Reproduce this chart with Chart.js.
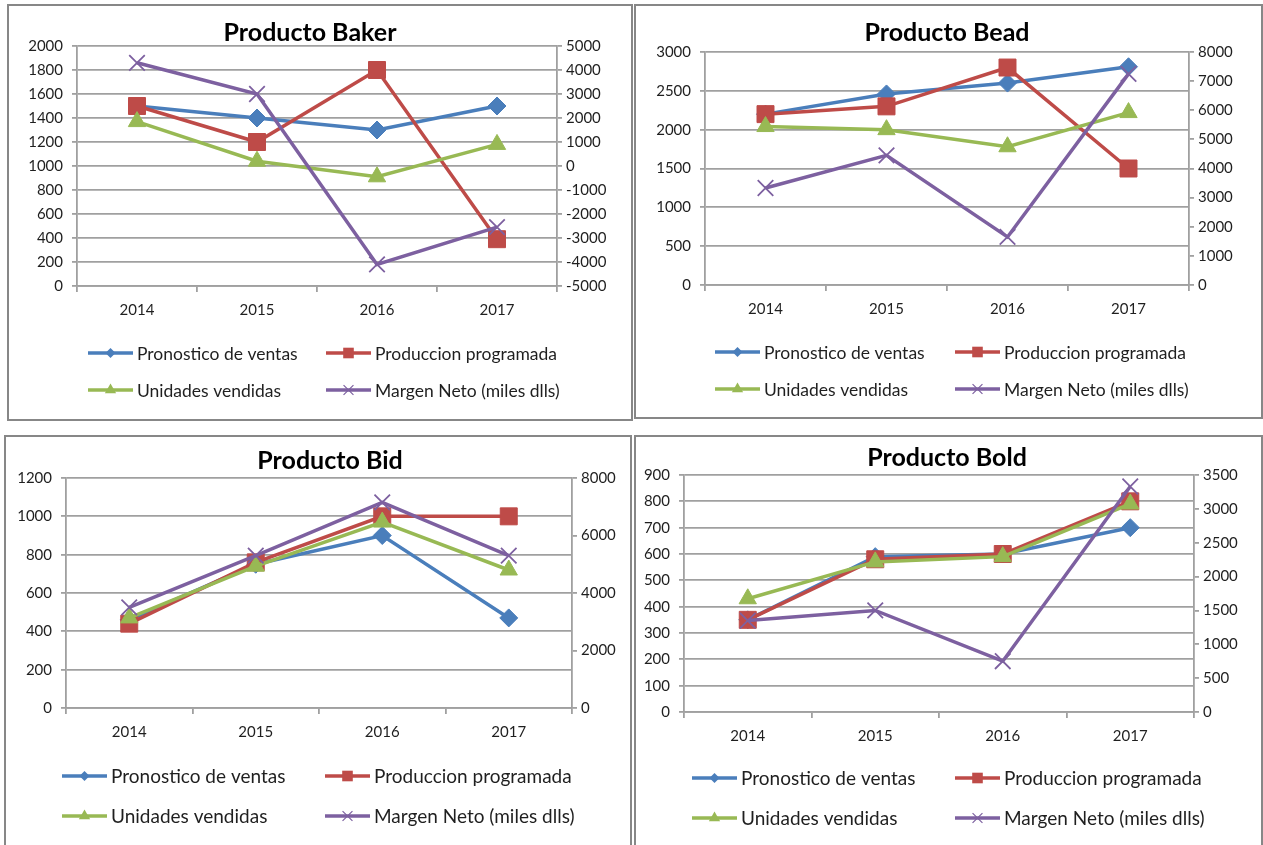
<!DOCTYPE html>
<html>
<head>
<meta charset="utf-8">
<script src="https://cdn.jsdelivr.net/npm/chart.js@4.4.1/dist/chart.umd.min.js"></script>
<style>
  html, body { margin: 0; padding: 0; background: #fff; width: 1263px; height: 845px; overflow: hidden; }
  .panel { position: absolute; box-sizing: border-box; border: 2px solid #878787; background: #fff; }
  .panel canvas { position: absolute; left: 0; top: 0; }
</style>
</head>
<body>
<div class="panel" id="p1"><canvas id="c1"></canvas></div>
<div class="panel" id="p2"><canvas id="c2"></canvas></div>
<div class="panel" id="p3"><canvas id="c3"></canvas></div>
<div class="panel" id="p4"><canvas id="c4"></canvas></div>
<script>
// Categories and series names shared by the four products
const years = ['2014', '2015', '2016', '2017'];
const seriesNames = ['Pronostico de ventas', 'Produccion programada', 'Unidades vendidas', 'Margen Neto (miles dlls)'];

// Producto Baker
const bakerPronostico = [1500, 1400, 1300, 1500];
const bakerProduccion = [1500, 1200, 1800, 390];
const bakerUnidades   = [1370, 1040, 910, 1180];
const bakerMargen     = [4300, 3000, -4100, -2550];

// Producto Bead
const beadPronostico = [2200, 2460, 2600, 2810];
const beadProduccion = [2200, 2300, 2800, 1500];
const beadUnidades   = [2040, 2000, 1780, 2220];
const beadMargen     = [3330, 4450, 1650, 7250];

// Producto Bid
const bidPronostico = [460, 750, 900, 470];
const bidProduccion = [440, 760, 1000, 1000];
const bidUnidades   = [470, 740, 970, 720];
const bidMargen     = [3500, 5300, 7150, 5300];

// Producto Bold
const boldPronostico = [350, 590, 600, 700];
const boldProduccion = [350, 580, 600, 800];
const boldUnidades   = [430, 570, 590, 790];
const boldMargen     = [1350, 1500, 750, 3330];

// Axis ranges: [min, max, step]
const bakerLeftAxis = [0, 2000, 200],  bakerRightAxis = [-5000, 5000, 1000];
const beadLeftAxis  = [0, 3000, 500],  beadRightAxis  = [0, 8000, 1000];
const bidLeftAxis   = [0, 1200, 200],  bidRightAxis   = [0, 8000, 2000];
const boldLeftAxis  = [0, 900, 100],   boldRightAxis  = [0, 3500, 500];

const FONT = 'Lato, "Open Sans", sans-serif';
const TXT = '#1f1f1f';
const GRID = '#a0a0a0';
const COLORS = ['#4a7ebb', '#be4b48', '#98b954', '#7d60a0'];
const MARKERS = [
  { style: 'rectRot',  r: 9,  lr: 5 },
  { style: 'rect',     r: 12, lr: 7.5 },
  { style: 'triangle', r: 10, lr: 6.5 },
  { style: 'crossRot', r: 11, lr: 7 }
];

// Small legend marker (line with symbol in the middle)
function legendMarker(ctx, style, x, y, r, color) {
  ctx.save();
  ctx.fillStyle = color;
  ctx.strokeStyle = color;
  ctx.beginPath();
  if (style === 'rectRot') {
    ctx.moveTo(x, y - r); ctx.lineTo(x + r, y); ctx.lineTo(x, y + r); ctx.lineTo(x - r, y); ctx.closePath(); ctx.fill();
  } else if (style === 'rect') {
    const s = r * Math.SQRT1_2;
    ctx.rect(x - s, y - s, 2 * s, 2 * s); ctx.fill();
  } else if (style === 'triangle') {
    ctx.moveTo(x, y - r); ctx.lineTo(x + r * 0.866, y + r * 0.5); ctx.lineTo(x - r * 0.866, y + r * 0.5); ctx.closePath(); ctx.fill();
  } else {
    const d = r * Math.SQRT1_2;
    ctx.lineWidth = 1.2;
    ctx.moveTo(x - d, y - d); ctx.lineTo(x + d, y + d);
    ctx.moveTo(x + d, y - d); ctx.lineTo(x - d, y + d); ctx.stroke();
  }
  ctx.restore();
}

// Title and two-column legend drawn on the chart canvas
const decor = {
  id: 'decor',
  afterDraw(chart, args, o) {
    const ctx = chart.ctx;
    ctx.save();
    ctx.fillStyle = '#000';
    ctx.font = 'bold ' + o.titleSize + 'px ' + FONT;
    ctx.textAlign = 'center';
    ctx.textBaseline = 'middle';
    ctx.fillText(o.title, o.titleX, o.titleY);

    ctx.font = o.legendSize + 'px ' + FONT;
    ctx.textAlign = 'left';
    chart.data.datasets.forEach((ds, i) => {
      const x0 = o.cols[i % 2];
      const y = o.rows[Math.floor(i / 2)];
      ctx.strokeStyle = ds.borderColor;
      ctx.lineWidth = 3.5;
      ctx.beginPath();
      ctx.moveTo(x0, y);
      ctx.lineTo(x0 + o.lineLen, y);
      ctx.stroke();
      legendMarker(ctx, MARKERS[i].style, x0 + o.lineLen / 2, y, MARKERS[i].lr, ds.borderColor);
      ctx.fillStyle = TXT;
      ctx.fillText(ds.label, x0 + o.lineLen + 4, y + 1);
    });
    ctx.restore();
  }
};

function makeChart(p) {
  const inner = { x: p.box[0] + 2, y: p.box[1] + 2, w: p.box[2] - 4, h: p.box[3] - 4 };
  const panel = document.getElementById(p.panel);
  panel.style.left = p.box[0] + 'px';
  panel.style.top = p.box[1] + 'px';
  panel.style.width = p.box[2] + 'px';
  panel.style.height = p.box[3] + 'px';
  const canvas = document.getElementById(p.canvas);
  canvas.width = inner.w;
  canvas.height = inner.h;
  const L = p.plot[0] - inner.x, R = p.plot[1] - inner.x;
  const T = p.plot[2] - inner.y, B = p.plot[3] - inner.y;
  const XH = 40;
  const tickFont = { family: FONT, size: p.tickSize };
  const fmt = v => String(v);

  new Chart(canvas, {
    type: 'line',
    data: {
      labels: years,
      datasets: p.series.map((vals, i) => ({
        label: seriesNames[i],
        data: vals,
        yAxisID: i === 3 ? 'y1' : 'y',
        borderColor: COLORS[i],
        backgroundColor: COLORS[i],
        pointBackgroundColor: COLORS[i],
        pointBorderColor: COLORS[i],
        borderWidth: 3.5,
        pointStyle: MARKERS[i].style,
        pointRadius: MARKERS[i].r,
        pointBorderWidth: i === 3 ? 1.8 : 1,
        tension: 0,
        fill: false,
        order: 4 - i
      }))
    },
    options: {
      responsive: false,
      animation: false,
      devicePixelRatio: 1,
      layout: { padding: { left: 0, right: 0, top: T, bottom: inner.h - B - XH } },
      plugins: {
        legend: { display: false },
        title: { display: false },
        tooltip: { enabled: false },
        decor: {
          title: p.title, titleX: p.titlePos[0] - inner.x, titleY: p.titlePos[1] - inner.y, titleSize: p.titleSize,
          cols: p.legendCols.map(v => v - inner.x), rows: p.legendRows.map(v => v - inner.y),
          lineLen: 45, legendSize: p.legendSize
        }
      },
      scales: {
        x: {
          offset: true,
          grid: { offset: true, drawOnChartArea: false, tickLength: 6, color: GRID, lineWidth: 1.8 },
          border: { color: GRID, width: 1.8 },
          ticks: { font: tickFont, color: TXT, padding: 9, maxRotation: 0 },
          afterFit(s) { s.height = XH; }
        },
        y: {
          position: 'left',
          min: p.left[0], max: p.left[1],
          ticks: { stepSize: p.left[2], font: tickFont, color: TXT, padding: 9, callback: fmt },
          grid: { color: GRID, lineWidth: 1.8, tickLength: 5 },
          border: { color: GRID, width: 1.8 },
          afterFit(s) { s.width = L; }
        },
        y1: {
          position: 'right',
          min: p.right[0], max: p.right[1],
          ticks: { stepSize: p.right[2], font: tickFont, color: TXT, padding: 4, callback: fmt },
          grid: { drawOnChartArea: false, color: GRID, lineWidth: 1.8, tickLength: 5 },
          border: { color: GRID, width: 1.8 },
          afterFit(s) { s.width = inner.w - R; }
        }
      }
    },
    plugins: [decor]
  });
}

makeChart({
  panel: 'p1', canvas: 'c1', box: [7, 4, 626, 417], plot: [77, 557, 46, 286],
  title: 'Producto Baker', titlePos: [310, 33], titleSize: 25,
  legendCols: [88, 326], legendRows: [353, 390], legendSize: 17.5, tickSize: 15,
  left: bakerLeftAxis, right: bakerRightAxis,
  series: [bakerPronostico, bakerProduccion, bakerUnidades, bakerMargen]
});
makeChart({
  panel: 'p2', canvas: 'c2', box: [634, 4, 629, 415], plot: [705, 1189, 52, 285],
  title: 'Producto Bead', titlePos: [947, 33], titleSize: 25,
  legendCols: [715, 955], legendRows: [352, 389], legendSize: 17.5, tickSize: 15,
  left: beadLeftAxis, right: beadRightAxis,
  series: [beadPronostico, beadProduccion, beadUnidades, beadMargen]
});
makeChart({
  panel: 'p3', canvas: 'c3', box: [4, 435, 628, 415], plot: [66, 572, 478, 708],
  title: 'Producto Bid', titlePos: [330, 461], titleSize: 25,
  legendCols: [62, 325], legendRows: [776, 816], legendSize: 19, tickSize: 15,
  left: bidLeftAxis, right: bidRightAxis,
  series: [bidPronostico, bidProduccion, bidUnidades, bidMargen]
});
makeChart({
  panel: 'p4', canvas: 'c4', box: [634, 435, 629, 415], plot: [684, 1194, 475, 712],
  title: 'Producto Bold', titlePos: [947, 458], titleSize: 25,
  legendCols: [692, 955], legendRows: [778, 818], legendSize: 19, tickSize: 15,
  left: boldLeftAxis, right: boldRightAxis,
  series: [boldPronostico, boldProduccion, boldUnidades, boldMargen]
});
</script>
</body>
</html>
